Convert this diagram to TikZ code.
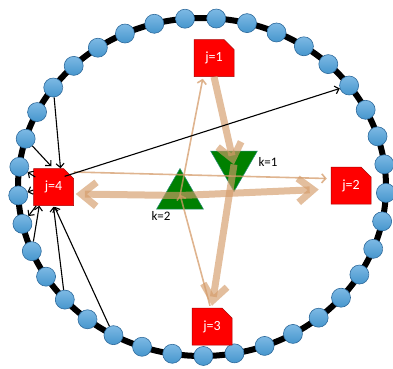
\documentclass[tikz,border=0pt]{standalone}
\usepackage{fontspec}
\setmainfont{Carlito}
\usetikzlibrary{arrows.meta,shapes.misc,shapes.geometric,calc}
\definecolor{beadfill}{RGB}{70,150,205}
\definecolor{beadtop}{RGB}{125,185,228}
\definecolor{beadedge}{RGB}{45,105,155}
\definecolor{boxred}{RGB}{255,0,0}
\definecolor{boxedge}{RGB}{170,0,0}
\definecolor{trigreen}{RGB}{0,128,0}
\definecolor{triedge}{RGB}{40,140,120}
\definecolor{tanc}{RGB}{212,155,105}
\begin{document}
\begin{tikzpicture}[x=1pt,y=-1pt,
  bead/.style={circle,minimum size=19pt,inner sep=0pt,draw=beadedge,line width=0.6pt,top color=beadtop,bottom color=beadfill},
  jbox/.style={chamfered rectangle,chamfered rectangle corners=north east,chamfered rectangle xsep=5pt,chamfered rectangle ysep=5pt,fill=boxred,draw=boxedge,line width=0.5pt,minimum width=40pt,minimum height=37pt,inner sep=0pt,text=white,font=\fontsize{14}{14}\selectfont},
  ktri/.style={regular polygon,regular polygon sides=3,minimum size=54pt,inner sep=0pt,fill=trigreen,draw=triedge,line width=0.5pt},
  klabel/.style={font=\fontsize{13}{13}\selectfont,inner sep=0pt},
  tanthick/.style={draw=tanc,opacity=0.65,line width=7pt,-{Straight Barb[length=15pt,width=24pt]}},
  tanthin/.style={draw=tanc,opacity=0.75,line width=1.6pt,-{Straight Barb[length=4pt,width=9pt]}},
  blk/.style={draw=black,line width=1.1pt,-{Straight Barb[length=4pt,width=8pt]}}]
\useasboundingbox (0,0) rectangle (393,368);
% ring
\draw[line width=6pt] (202,187) ellipse [x radius=184, y radius=169];
\foreach \i in {0,...,36}
  \node[bead] (b\i) at ({202+184*cos(95.3-9.73*\i)},{187-169*sin(95.3-9.73*\i)}) {};
% j boxes
\node[jbox] (j1) at (214,58) {j=1};
\node[jbox] (j2) at (351,185.5) {j=2};
\node[jbox] (j3) at (212,326.5) {j=3};
\node[jbox] (j4) at (53.5,187) {j=4};
% triangles
\node[ktri] (k2) at (180,195.5) {};
\node[ktri,shape border rotate=180] (k1) at (234,164.5) {};
\node[klabel] (l1) at (268,162) {k=1};
\node[klabel] (l2) at (161,216) {k=2};
% tan arrows
\draw[tanthick] (j1.south) -- (k1.center);
\draw[tanthick] (k1.center) -- ($(j3.north)+(0,-2)$);
\draw[tanthick] (k2.center) -- ($(j2.west)+(-12,4)$);
\draw[tanthick] (k2.center) -- ($(j4.east)+(2,7)$);
\draw[tanthin] (k2.center) -- ($(j1.south west)+(9,2)$);
\draw[tanthin] ($(j3.north)+(-2,-2)$) -- ($(k2.center)+(0,-1)$);
\draw[tanthin] ($(j4.east)+(0,-15)$) -- ($(j2.west)+(-4,-7)$);
% black arrows
\draw[blk] ($(j4.north east)+(-4,3)$) -- (b6);
\draw[blk] (b32) -- ($(j4.north)+(7,0)$);
\draw[blk] (b30) -- ($(j4.north west)+(18,-2)$);
\draw[blk] ($(j4.west)+(2,-10)$) -- (b29);
\draw[blk] ($(j4.west)+(0,3)$) -- (b28);
\draw[blk] ($(j4.south west)+(3,0)$) -- (b27);
\draw[blk] (b26) -- ($(j4.south west)+(6,0)$);
\draw[blk] (b24) -- ($(j4.south)+(0,1)$);
\draw[blk] (b22) -- ($(j4.south)+(1,1)$);
\end{tikzpicture}
\end{document}
